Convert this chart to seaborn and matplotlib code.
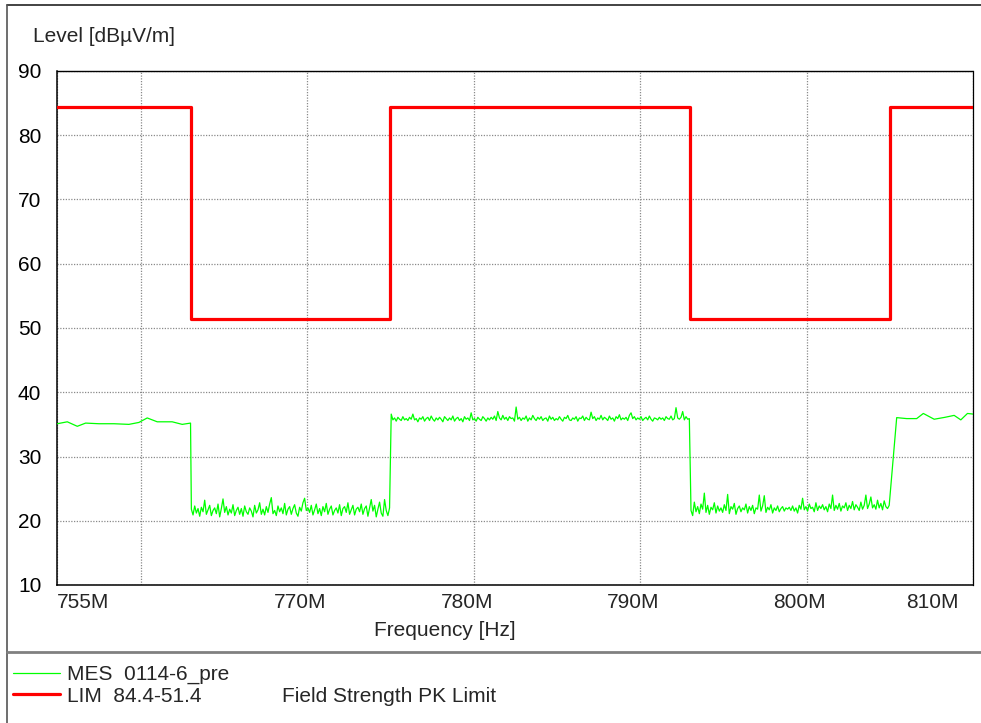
import numpy as np
import pandas as pd
import matplotlib
matplotlib.use("Agg")
import matplotlib.pyplot as plt
import seaborn as sns
from matplotlib.lines import Line2D
from matplotlib.transforms import ScaledTranslation, blended_transform_factory

# ---------------- data ----------------
# MES trace, coarse part below 763 MHz
mes_a_freq = [755.0, 755.6, 756.2, 756.7, 757.5, 758.4, 759.3, 759.9, 760.4, 761.0, 761.9, 762.5, 763.0]
mes_a_level = [35.1, 35.4, 34.7, 35.2, 35.1, 35.1, 35.0, 35.3, 36.0, 35.4, 35.4, 35.0, 35.2]

# MES trace, fine sweep 763.05 .. 774.95 MHz (0.1 MHz step)
mes_b_start = 763.05
mes_b_level = [
    21.8, 20.9, 22.3, 21.2, 21.9, 20.7, 22.1, 21.4, 23.2, 21.0,
    21.7, 22.4, 20.8, 21.6, 22.0, 21.1, 22.6, 20.6, 21.9, 23.4,
    21.3, 22.2, 20.9, 21.8, 21.2, 22.5, 20.8, 21.6, 22.1, 21.0,
    21.9, 20.7, 22.3, 21.4, 21.0, 22.0, 21.5, 20.6, 22.4, 21.2,
    21.7, 22.8, 21.0, 21.8, 20.9, 22.2, 21.3, 22.6, 23.6, 21.1,
    21.6, 20.8, 22.3, 21.4, 22.0, 21.1, 22.7, 20.9, 21.8, 22.2,
    21.0, 21.9, 22.5, 21.2, 20.7, 22.1, 21.5, 22.8, 23.5, 21.6,
    22.0, 21.3, 22.4, 20.9, 21.7, 22.6, 21.1, 21.9, 20.8, 22.2,
    21.4, 22.7, 21.0, 21.8, 22.3, 20.9, 21.6, 22.0, 21.2, 22.5,
    20.8, 21.9, 22.2, 21.3, 22.8, 21.0, 21.7, 22.4, 20.9, 21.8,
    22.1, 21.4, 22.6, 21.0, 21.9, 22.3, 20.7, 22.0, 23.3, 21.5,
    22.4, 20.6, 21.8, 22.9, 21.2, 20.7, 23.3, 21.6, 20.8, 22.0,
]

# MES trace, fine sweep 775.05 .. 792.95 MHz
mes_c_start = 775.05
mes_c_level = [
    36.6, 35.7, 36.0, 35.5, 36.1, 35.8, 35.6, 36.2, 35.7, 35.9,
    35.6, 36.1, 35.8, 36.6, 35.7, 35.9, 35.4, 36.0, 35.8, 36.2,
    35.5, 35.9, 36.1, 35.6, 36.3, 35.8, 35.5, 36.0, 35.7, 36.1,
    35.8, 35.4, 36.2, 35.9, 35.6, 36.0, 35.7, 36.3, 35.5, 35.9,
    36.1, 35.6, 35.9, 35.4, 36.2, 35.8, 36.0, 35.6, 36.8, 35.7,
    35.9, 35.5, 36.1, 35.8, 35.6, 36.2, 35.9, 35.5, 36.0, 35.7,
    36.1, 35.8, 36.3, 35.6, 37.0, 36.0, 35.7, 36.4, 35.8, 36.1,
    35.6, 36.2, 35.9, 36.0, 35.5, 37.7, 35.8, 36.1, 35.6, 36.0,
    35.8, 36.3, 35.5, 36.0, 35.7, 36.4, 35.9, 35.6, 36.1, 35.8,
    36.2, 35.6, 35.9, 36.0, 35.5, 36.3, 35.8, 36.1, 35.6, 35.9,
    35.7, 36.2, 35.8, 35.5, 36.1, 35.9, 36.4, 35.7, 35.6, 36.0,
    35.8, 36.2, 35.5, 36.0, 35.9, 36.3, 35.6, 36.1, 35.8, 35.7,
    36.9, 35.9, 36.2, 35.6, 36.0, 35.8, 36.4, 35.7, 36.1, 35.9,
    35.6, 36.3, 35.8, 36.0, 35.5, 36.2, 35.9, 36.5, 35.7, 36.0,
    35.8, 36.1, 35.6, 36.4, 36.8, 35.9, 36.2, 35.7, 36.0, 35.8,
    36.2, 35.6, 35.9, 36.1, 35.7, 36.3, 35.8, 35.5, 36.0, 35.9,
    35.7, 36.1, 35.8, 36.0, 35.6, 36.2, 35.9, 35.8, 36.3, 35.7,
    35.9, 37.6, 36.0, 35.8, 36.1, 37.0, 35.7, 36.2, 35.8, 35.9,
]

# MES trace, fine sweep 793.05 .. 804.95 MHz
mes_d_start = 793.05
mes_d_level = [
    21.6, 20.8, 22.9, 21.4, 22.2, 21.1, 22.6, 21.8, 24.3, 21.3,
    22.4, 21.0, 22.1, 21.7, 22.8, 21.2, 22.3, 21.5, 22.0, 21.3,
    22.5, 21.6, 24.1, 21.1, 22.2, 21.8, 22.7, 21.0, 21.9, 22.3,
    21.4, 22.0, 21.7, 22.6, 21.2, 22.2, 21.6, 22.4, 21.1, 22.0,
    21.8, 24.0, 21.5, 22.3, 23.9, 21.3, 22.1, 21.7, 22.5, 21.2,
    22.0, 21.6, 22.3, 21.4, 21.9, 22.2, 21.5, 22.0, 21.8, 22.1,
    21.6, 22.3, 21.5, 22.0, 21.2, 22.4, 21.8, 23.5, 21.7, 22.2,
    21.5, 22.6, 21.9, 22.1, 21.4, 22.8, 21.6, 22.3, 21.9, 22.5,
    21.7, 22.2, 21.4, 22.6, 21.9, 24.0, 21.6, 22.4, 21.8, 22.7,
    21.5, 22.3, 22.0, 22.8, 21.6, 22.4, 21.9, 23.0, 21.7, 22.5,
    22.1, 21.6, 22.9, 21.8, 22.4, 24.0, 21.9, 22.6, 23.7, 22.0,
    22.5, 21.8, 23.2, 22.0, 22.7, 21.7, 23.1, 22.2, 21.9, 22.4,
]
fine_step = 0.1

# MES trace, coarse part above 805 MHz
mes_e_freq = [805.4, 806.0, 806.6, 807.0, 807.65, 808.3, 808.85, 809.25, 809.65, 810.0]
mes_e_level = [36.05, 35.9, 35.9, 36.7, 35.8, 36.1, 36.4, 35.7, 36.7, 36.6]

# Limit line (step, value holds from each frequency to the next)
lim_freq = [755.0, 763.0, 775.0, 793.0, 805.0, 810.0]
lim_level = [84.4, 51.4, 84.4, 51.4, 84.4, 84.4]

y_ticks = [10, 20, 30, 40, 50, 60, 70, 80, 90]
x_grid = [755, 760, 770, 780, 790, 800, 810]
x_labels = ["755M", "770M", "780M", "790M", "800M", "810M"]
x_label_pos = [755, 770, 780, 790, 800, 810]

# ---------------- build tables ----------------
def fine_freqs(start, n):
    return [round(start + fine_step * i, 3) for i in range(n)]

mes_freq = (mes_a_freq + fine_freqs(mes_b_start, len(mes_b_level))
            + fine_freqs(mes_c_start, len(mes_c_level))
            + fine_freqs(mes_d_start, len(mes_d_level)) + mes_e_freq)
mes_level = mes_a_level + mes_b_level + mes_c_level + mes_d_level + mes_e_level
mes_df = pd.DataFrame({"freq": mes_freq, "level": mes_level})
lim_df = pd.DataFrame({"freq": lim_freq, "level": lim_level})

# ---------------- figure ----------------
sns.set_style("white")
plt.rcParams["font.family"] = ["Liberation Sans", "DejaVu Sans"]

W, H = 981, 723
fig = plt.figure(figsize=(W / 100, H / 100), dpi=100)
ax_l, ax_r, ax_t, ax_b = 57.3, 973.3, 71.0, 585.0
ax = fig.add_axes([ax_l / W, 1 - ax_b / H, (ax_r - ax_l) / W, (ax_b - ax_t) / H])

sns.lineplot(data=mes_df, x="freq", y="level", color="#00ff00", lw=0.9,
             estimator=None, sort=False, ax=ax, zorder=3)
sns.lineplot(data=lim_df, x="freq", y="level", color="#ff0000", lw=2.3,
             estimator=None, sort=False, drawstyle="steps-post", ax=ax, zorder=4)

ax.set_xlim(755, 810)
ax.set_ylim(10, 90)
ax.set_xticks(x_grid)
ax.set_xticklabels([])
ax.set_yticks(y_ticks)
ax.set_yticklabels([str(v) for v in y_ticks])
ax.tick_params(axis="both", length=0, labelsize=15, colors="black")
ax.tick_params(axis="y", pad=11.5)
ax.grid(True, color="#8a8a8a", linestyle=(0, (1, 1.2)), linewidth=0.9)
ax.set_xlabel("")
ax.set_ylabel("")

for s in ["left", "bottom"]:
    ax.spines[s].set_color("black")
    ax.spines[s].set_linewidth(1.1)
ax.spines["right"].set_color("black")
ax.spines["right"].set_linewidth(0.9)
ax.spines["top"].set_color("black")
ax.spines["top"].set_linewidth(1.0)
ax.spines["top"].set_linestyle((0, (1, 1)))

# x tick labels as text under the axis
trans = blended_transform_factory(ax.transData, ax.transAxes)
for pos, lab in zip(x_label_pos, x_labels):
    if pos == 755:
        ha, dx = "left", 0
    elif pos == 810:
        ha, dx = "right", -15
    else:
        ha, dx = "center", -7
    t = trans + ScaledTranslation(dx / 100, -18 / 100, fig.dpi_scale_trans)
    ax.text(pos, 0, lab, ha=ha, va="center", fontsize=15, transform=t, clip_on=False)

fig.text(445 / W, 1 - 630 / H, "Frequency [Hz]", ha="center", va="center", fontsize=15)
fig.text(33 / W, 1 - 36.7 / H, "Level [dBµV/m]", ha="left", va="center", fontsize=15)

# frame lines
fig.add_artist(Line2D([7 / W, 1], [1 - 5 / H, 1 - 5 / H], transform=fig.transFigure,
                      color="#222222", lw=1.2))
fig.add_artist(Line2D([7 / W, 7 / W], [0, 1 - 5 / H], transform=fig.transFigure,
                      color="#555555", lw=1.2))
fig.add_artist(Line2D([7 / W, 1], [1 - 651.7 / H, 1 - 651.7 / H], transform=fig.transFigure,
                      color="#808080", lw=2.0))

# legend block
fig.add_artist(Line2D([13 / W, 60 / W], [1 - 673.3 / H] * 2, transform=fig.transFigure,
                      color="#00ff00", lw=0.9))
fig.add_artist(Line2D([13 / W, 60 / W], [1 - 694.3 / H] * 2, transform=fig.transFigure,
                      color="#ff0000", lw=2.3))
fig.text(66.7 / W, 1 - 674.7 / H, "MES  0114-6_pre", ha="left", va="center", fontsize=15)
fig.text(66.7 / W, 1 - 696.5 / H, "LIM  84.4-51.4", ha="left", va="center", fontsize=15)
fig.text(281.7 / W, 1 - 696.5 / H, "Field Strength PK Limit", ha="left", va="center", fontsize=15)

fig.savefig("out.png", dpi=100)
